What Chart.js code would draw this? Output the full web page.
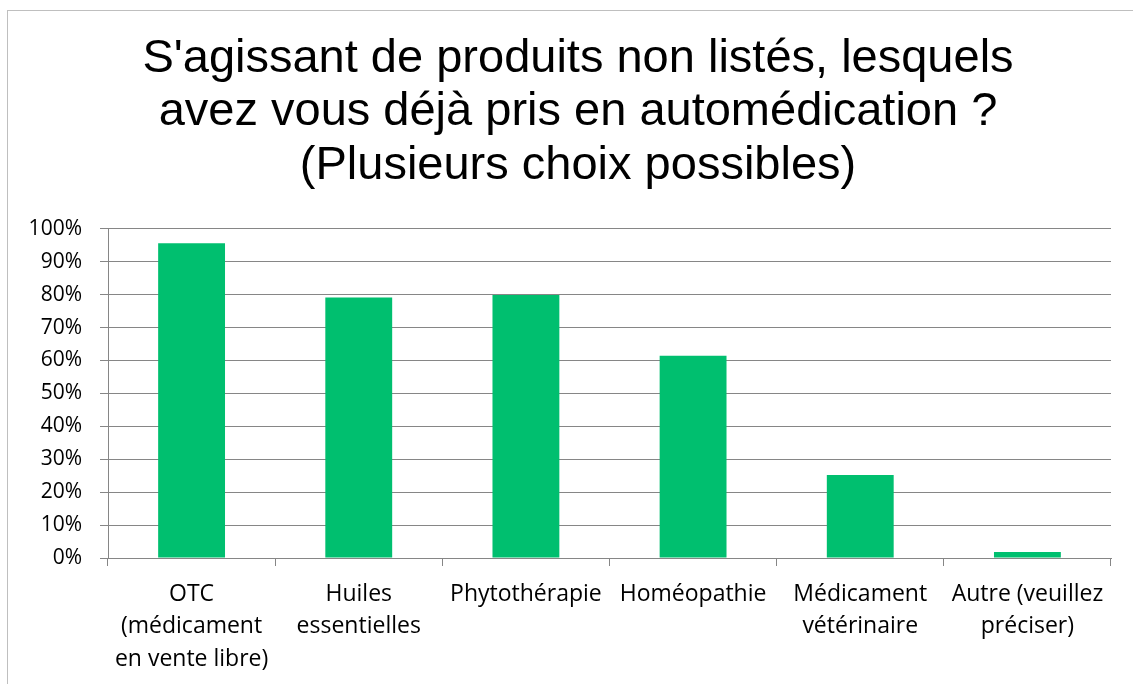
<!DOCTYPE html>
<html>
<head>
<meta charset="utf-8">
<script src="https://cdn.jsdelivr.net/npm/chart.js@4.4.0/dist/chart.umd.min.js"></script>
<style>
  html, body { margin: 0; padding: 0; background: #fff; overflow: hidden; }
  #wrap { position: relative; width: 1133px; height: 684px; }
</style>
</head>
<body>
<div id="wrap"><canvas id="c" width="1133" height="684"></canvas></div>
<script>
const titleLines = ["S'agissant de produits non listés, lesquels", "avez vous déjà pris en automédication ?", "(Plusieurs choix possibles)"];
const categories = [
  ["OTC", "(médicament", "en vente libre)"],
  ["Huiles", "essentielles"],
  ["Phytothérapie"],
  ["Homéopathie"],
  ["Médicament", "vétérinaire"],
  ["Autre (veuillez", "préciser)"]
];
const values = [95.6, 79.1, 79.9, 61.4, 25.2, 1.8];
const yTicks = [0, 10, 20, 30, 40, 50, 60, 70, 80, 90, 100];

const framePlugin = {
  id: 'frame',
  beforeDraw(chart) {
    const ctx = chart.ctx;
    ctx.save();
    ctx.fillStyle = '#ffffff';
    ctx.fillRect(0, 0, chart.width, chart.height);
    ctx.strokeStyle = '#bfbfbf';
    ctx.lineWidth = 1;
    ctx.strokeRect(7.5, 10.5, 1300, 900);
    ctx.restore();
  },
  afterLayout(chart) {
    // the reference title is centred on the full (wider) chart frame
    if (chart.titleBlock) { chart.titleBlock.left = 45; }
  }
};

new Chart(document.getElementById('c'), {
  type: 'bar',
  data: {
    labels: categories,
    datasets: [{
      data: values,
      backgroundColor: '#00BF6F',
      borderWidth: 0,
      barPercentage: 0.4,
      categoryPercentage: 1.0
    }]
  },
  plugins: [framePlugin],
  options: {
    responsive: false,
    animation: false,
    devicePixelRatio: 1,
    layout: { padding: { left: 10, right: 22, top: 0, bottom: 0 } },
    plugins: {
      legend: { display: false },
      tooltip: { enabled: false },
      title: {
        display: true,
        text: titleLines,
        color: '#000000',
        font: { family: '"Liberation Sans", Arial, sans-serif', size: 47, weight: 'normal', lineHeight: 1.14 },
        padding: { top: 32, bottom: 36 }
      }
    },
    scales: {
      x: {
        grid: { display: true, drawOnChartArea: false, drawTicks: true, tickLength: 8, color: '#868686', offset: true },
        border: { display: true, color: '#868686', width: 1 },
        ticks: {
          color: '#000000',
          font: { family: '"Open Sans", Lato, sans-serif', size: 23, lineHeight: 1.41 },
          maxRotation: 0, minRotation: 0, autoSkip: false, padding: 12
        },
        afterFit(scale) { scale.height = 126; }
      },
      y: {
        min: 0, max: 100,
        afterBuildTicks(scale) { scale.ticks = yTicks.map(v => ({ value: v })); },
        grid: { color: '#868686', tickLength: 8, lineWidth: 1 },
        border: { display: true, color: '#868686', width: 1 },
        ticks: {
          color: '#000000',
          font: { family: '"Open Sans", Lato, sans-serif', size: 21 },
          padding: 18,
          callback: (v) => v + '%'
        },
        afterFit(scale) { scale.width = 98; }
      }
    }
  }
});
</script>
</body>
</html>
